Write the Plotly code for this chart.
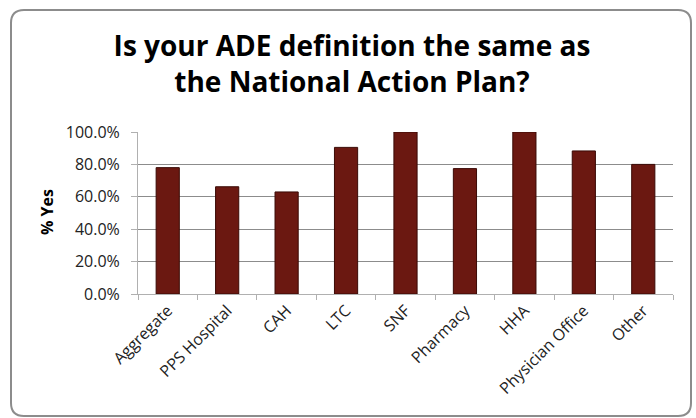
import plotly.graph_objects as go

categories = ["Aggregate", "PPS Hospital", "CAH", "LTC", "SNF", "Pharmacy", "HHA", "Physician Office", "Other"]
pct_yes = [78.0, 66.2, 63.0, 90.5, 100.0, 77.4, 100.0, 88.3, 80.0]
y_ticks = [0, 20, 40, 60, 80, 100]
y_tick_labels = ["0.0%", "20.0%", "40.0%", "60.0%", "80.0%", "100.0%"]

W, H = 696, 418
L, R, T, B = 138, 23, 132, 124
pw = W - L - R
ph = H - T - B


def px_x(p):
    return (p - L) / pw


def px_y(p):
    return (H - B - p) / ph


# rounded border path (paper coords)
bx0, bx1, by0, by1, rad = 11, 691, 10, 416, 13
def P(x, y):
    return f"{px_x(x):.5f},{px_y(y):.5f}"

border_path = (
    f"M {P(bx0 + rad, by0)} L {P(bx1 - rad, by0)} Q {P(bx1, by0)} {P(bx1, by0 + rad)} "
    f"L {P(bx1, by1 - rad)} Q {P(bx1, by1)} {P(bx1 - rad, by1)} "
    f"L {P(bx0 + rad, by1)} Q {P(bx0, by1)} {P(bx0, by1 - rad)} "
    f"L {P(bx0, by0 + rad)} Q {P(bx0, by0)} {P(bx0 + rad, by0)} Z"
)

FONT = "Open Sans, Liberation Sans, sans-serif"

fig = go.Figure()
fig.add_trace(go.Bar(
    x=categories, y=pct_yes,
    marker=dict(color="#6b1811", line=dict(color="#3a0a06", width=1)),
    hoverinfo="x+y",
))

fig.update_layout(
    width=W, height=H,
    margin=dict(l=L, r=R, t=T, b=B, autoexpand=False),
    paper_bgcolor="white", plot_bgcolor="white",
    bargap=0.61,
    showlegend=False,
    title=dict(
        text="<b>Is your ADE definition the same as<br>the National Action Plan?</b>",
        x=px_x(352), xref="paper", xanchor="center",
        y=1 - 56 / H, yanchor="top",
        font=dict(family=FONT, size=28, color="black"),
    ),
    font=dict(family=FONT, size=16, color="#222"),
    xaxis=dict(
        tickangle=-45, tickson="boundaries", ticks="outside", ticklen=5,
        tickcolor="#b0b0b0", showline=True, linecolor="#b0b0b0", linewidth=1,
        showgrid=False, tickfont=dict(family=FONT, size=16, color="#222"),
        automargin=False,
    ),
    yaxis=dict(
        range=[0, 100], tickvals=y_ticks, ticktext=y_tick_labels,
        ticks="outside", ticklen=6, tickcolor="#b0b0b0",
        showline=True, linecolor="#b0b0b0", linewidth=1,
        showgrid=True, gridcolor="#8c8c8c", gridwidth=1,
        tickfont=dict(family=FONT, size=16, color="#222"),
        ticklabelstandoff=8,
        automargin=False,
    ),
    annotations=[dict(
        text="<b>% Yes</b>", textangle=-90, showarrow=False,
        xref="paper", yref="paper", x=px_x(47), y=px_y(212),
        xanchor="center", yanchor="middle",
        font=dict(family=FONT, size=16, color="black"),
    )],
    shapes=[dict(
        type="path", xref="paper", yref="paper", path=border_path,
        line=dict(color="#8c8c8c", width=2), layer="below",
    )],
)

fig.write_html(
    "out.html",
    config={"displayModeBar": False},
    post_script="document.body.style.margin='0';document.body.style.padding='0';",
)
